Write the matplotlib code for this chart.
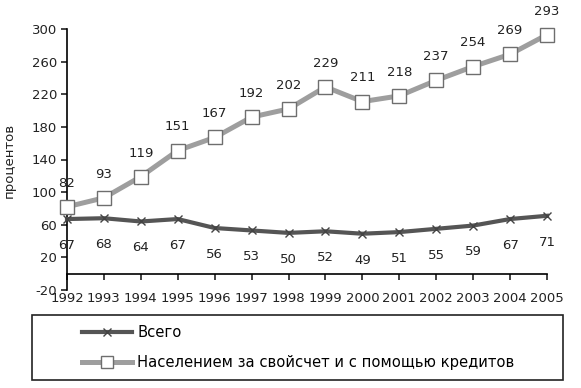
import matplotlib
matplotlib.use("Agg")
import matplotlib.pyplot as plt
from matplotlib.patches import Rectangle

years = [1992, 1993, 1994, 1995, 1996, 1997, 1998, 1999, 2000, 2001, 2002, 2003, 2004, 2005]
total = [67, 68, 64, 67, 56, 53, 50, 52, 49, 51, 55, 59, 67, 71]
population = [82, 93, 119, 151, 167, 192, 202, 229, 211, 218, 237, 254, 269, 293]
yticks = [-20, 20, 60, 100, 140, 180, 220, 260, 300]
label_total = "Всего"
label_pop = "Населением за свойсчет и с помощью кредитов"
ylabel = "процентов"

plt.rcParams['font.family'] = ['DejaVu Sans']
plt.rcParams['axes.unicode_minus'] = False
fs = 9.5

fig = plt.figure(figsize=(5.81, 3.88), dpi=100)
ax = fig.add_axes([67/581, 1-290/388, (547-67)/581, (290-29)/388])

l1, = ax.plot(years, total, color='#555555', lw=3.0, marker='x', ms=6, mew=1.0,
              mec='#444444', zorder=3, label=label_total)
l2, = ax.plot(years, population, color='#9e9e9e', lw=3.6, marker='s', ms=10,
              mfc='white', mec='#6e6e6e', mew=1.0, zorder=4, label=label_pop)

for x, v in zip(years, population):
    ax.annotate(str(v), (x, v), xytext=(0, 17), textcoords='offset points',
                ha='center', va='center', fontsize=fs, color='#222222')
for x, v in zip(years, total):
    ax.annotate(str(v), (x, v), xytext=(0, -19), textcoords='offset points',
                ha='center', va='center', fontsize=fs, color='#222222')

ax.set_xlim(years[0], years[-1])
ax.set_ylim(-20, 300)
ax.set_yticks(yticks)
ax.set_xticks(years)
ax.set_xticklabels([str(y) for y in years])
ax.spines['top'].set_visible(False)
ax.spines['right'].set_visible(False)
ax.spines['bottom'].set_position(('data', 0))
ax.spines['left'].set_linewidth(1.2)
ax.spines['bottom'].set_linewidth(1.2)
ax.tick_params(axis='both', labelsize=fs, colors='#222222', direction='out', width=1.2)
ax.tick_params(axis='x', length=4, pad=9)
ax.tick_params(axis='y', length=4, pad=3)
for line in (l1, l2):
    line.set_clip_on(False)

fig.text(9/581, 1-160/388, ylabel, rotation=90, ha='center', va='center',
         fontsize=9.5, color='#222222')

fig.patches.append(Rectangle((32/581, 1-380/388), (563-32)/581, 65/388,
                             transform=fig.transFigure, fill=False,
                             ec='#222222', lw=1.2))
fig.legend(handles=[l1, l2], loc='upper left',
           bbox_to_anchor=(82/581, 1-325/388), frameon=False,
           borderpad=0, borderaxespad=0, handlelength=3.4, handletextpad=0.35,
           labelspacing=1.0, fontsize=10.6, markerscale=0.9)

fig.savefig("out.png", dpi=100)
